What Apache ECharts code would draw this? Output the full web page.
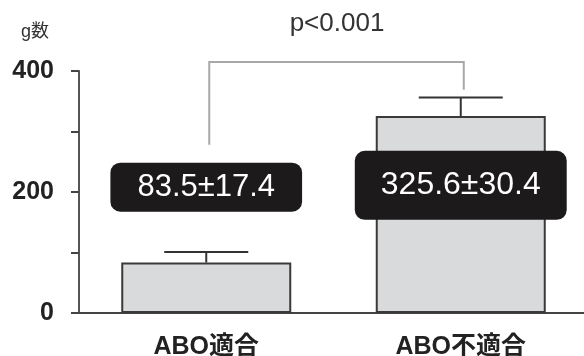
<!DOCTYPE html>
<html>
<head>
<meta charset="utf-8">
<script src="https://cdn.jsdelivr.net/npm/echarts@6/dist/echarts.min.js"></script>
<style>
  html, body { margin: 0; padding: 0; background: #fff; }
  #chart { width: 584px; height: 356px; }
</style>
</head>
<body>
<div id="chart"></div>
<script>
// Group names, means and standard deviations (g)
const categories = ['ABO適合', 'ABO不適合'];
const means = [83.5, 325.6];
const sds = [17.4, 30.4];
const yTicks = [0, 200, 400];
const pText = 'p<0.001';

// Significance bracket ends (g): left leg bottom, top, right leg bottom
const bracketLeft = 278;
const bracketTop = 415;
const bracketRight = 369;

const FONT = '"Liberation Sans", Arial, "Noto Sans CJK JP", sans-serif';

const chart = echarts.init(document.getElementById('chart'), null, { renderer: 'canvas' });

const boxStyles = [
  { fontSize: 31, padding: [9, 27, 9, 27] },
  { fontSize: 32, padding: [19, 26, 18, 26] }
];
const boxLevel = [208, 211];

const option = {
  animation: false,
  grid: {
    left: 79, right: -4, top: 71, bottom: 43,
    containLabel: false,
    outerBoundsMode: 'none'
  },
  xAxis: {
    type: 'category',
    data: categories,
    axisLine: { lineStyle: { color: '#444', width: 2 } },
    axisTick: { alignWithLabel: true, length: 5, lineStyle: { color: '#444', width: 1.5 } },
    axisLabel: {
      margin: 22,
      color: '#222',
      fontSize: 25,
      fontWeight: 'bold',
      fontFamily: FONT
    }
  },
  yAxis: {
    type: 'value',
    min: 0,
    max: 400,
    interval: 100,
    splitLine: { show: false },
    axisLine: { show: true, lineStyle: { color: '#555', width: 2 } },
    axisTick: { show: true, length: 8, lineStyle: { color: '#444', width: 2 } },
    axisLabel: {
      margin: 25,
      color: '#222',
      fontSize: 25,
      fontWeight: 'bold',
      fontFamily: FONT,
      padding: [6, 0, 0, 0],
      formatter: v => (yTicks.indexOf(v) >= 0 ? String(v) : '')
    }
  },
  graphic: [
    {
      type: 'text', left: 21, top: 23,
      style: { text: 'g数', fontSize: 18, fill: '#333', fontFamily: FONT }
    },
    {
      type: 'text', x: 337, y: 11,
      style: { text: pText, fontSize: 26, fill: '#333', fontFamily: FONT, textAlign: 'center' }
    }
  ],
  series: [
    {
      type: 'bar',
      data: means,
      barWidth: 170,
      itemStyle: { color: '#d9dadc', borderColor: '#3a3a3a', borderWidth: 2 },
      z: 2
    },
    {
      // significance bracket joining the two groups
      type: 'custom',
      z: 1,
      clip: false,
      silent: true,
      data: [[0, bracketLeft, 1, bracketRight, bracketTop]],
      renderItem: (params, api) => {
        const a = api.coord([api.value(0), api.value(1)]);
        const b = api.coord([api.value(2), api.value(3)]);
        const topY = api.coord([0, api.value(4)])[1];
        const dx = 3;
        return {
          type: 'polyline',
          shape: { points: [[a[0] + dx, a[1]], [a[0] + dx, topY], [b[0] + dx, topY], [b[0] + dx, b[1]]] },
          style: { stroke: '#a8a8a8', lineWidth: 2, fill: 'none', lineJoin: 'miter' }
        };
      }
    },
    {
      // error bars: mean to mean + SD with a cap
      type: 'custom',
      z: 3,
      data: means.map((m, i) => [i, m, m + sds[i]]),
      renderItem: (params, api) => {
        const base = api.coord([api.value(0), api.value(1)]);
        const top = api.coord([api.value(0), api.value(2)]);
        const half = 42;
        const style = { stroke: '#333', lineWidth: 2, fill: 'none' };
        return {
          type: 'group',
          children: [
            { type: 'line', shape: { x1: base[0], y1: base[1], x2: top[0], y2: top[1] }, style },
            { type: 'line', shape: { x1: top[0] - half, y1: top[1], x2: top[0] + half, y2: top[1] }, style }
          ]
        };
      }
    },
    {
      // value boxes "mean±SD"
      type: 'scatter',
      z: 5,
      symbolSize: 0,
      silent: true,
      itemStyle: { opacity: 1 },
      data: means.map((m, i) => ({
        value: [i, boxLevel[i]],
        label: {
          show: true,
          position: 'inside',
          formatter: m.toFixed(1) + '±' + sds[i].toFixed(1),
          color: '#fff',
          opacity: 1,
          fontFamily: FONT,
          fontSize: boxStyles[i].fontSize,
          backgroundColor: '#1c1a1b',
          borderRadius: 10,
          padding: boxStyles[i].padding
        }
      }))
    }
  ]
};

chart.setOption(option);
</script>
</body>
</html>
